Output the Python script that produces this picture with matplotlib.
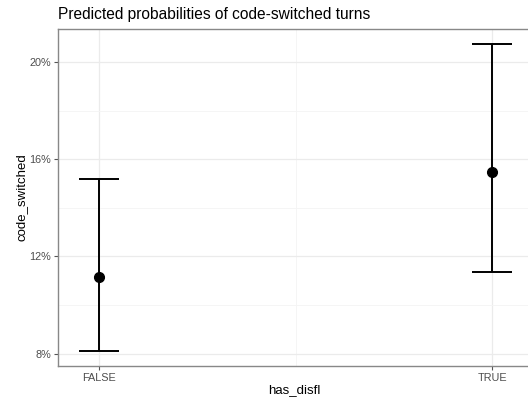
import matplotlib.pyplot as plt
from matplotlib.ticker import FixedLocator

# data (percent)
categories = ['FALSE', 'TRUE']
predicted = [11.17, 15.46]
conf_low = [8.12, 11.34]
conf_high = [15.19, 20.74]

plt.rcParams['font.family'] = ['Liberation Sans', 'DejaVu Sans']

fig = plt.figure(figsize=(5.28, 3.98), dpi=100)
ax = fig.add_axes([58 / 528, 1 - 366 / 398, 472 / 528, 337 / 398])

x = list(range(1, len(categories) + 1))
yerr = [[p - l for p, l in zip(predicted, conf_low)],
        [h - p for p, h in zip(predicted, conf_high)]]
ax.errorbar(x, predicted, yerr=yerr, fmt='o', color='black', ms=7,
            elinewidth=1.4, capsize=14.4, capthick=1.4, zorder=3)

ax.set_xlim(0.896, 2.096)
ax.set_ylim(7.49, 21.36)
ax.set_xticks(x)
ax.set_xticklabels(categories)
ax.set_yticks([8, 12, 16, 20])
ax.set_yticklabels(['8%', '12%', '16%', '20%'])
ax.xaxis.set_minor_locator(FixedLocator([1.5]))
ax.yaxis.set_minor_locator(FixedLocator([10, 14, 18]))

ax.grid(which='major', color='#EBEBEB', lw=0.9)
ax.grid(which='minor', color='#F4F4F4', lw=0.6)
ax.set_axisbelow(True)
ax.tick_params(which='minor', length=0)
ax.tick_params(which='major', length=3, color='#555555', labelsize=7.8,
               labelcolor='#4D4D4D', width=0.8, pad=2)
for s in ax.spines.values():
    s.set_color('#888888')
    s.set_linewidth(1)

ax.set_xlabel('has_disfl', fontsize=9.5, labelpad=1)
ax.set_ylabel('code_switched', fontsize=9.5, labelpad=1)
ax.set_title('Predicted probabilities of code-switched turns', fontsize=11.2,
             loc='left', pad=7)

fig.savefig('out.png', dpi=100)
